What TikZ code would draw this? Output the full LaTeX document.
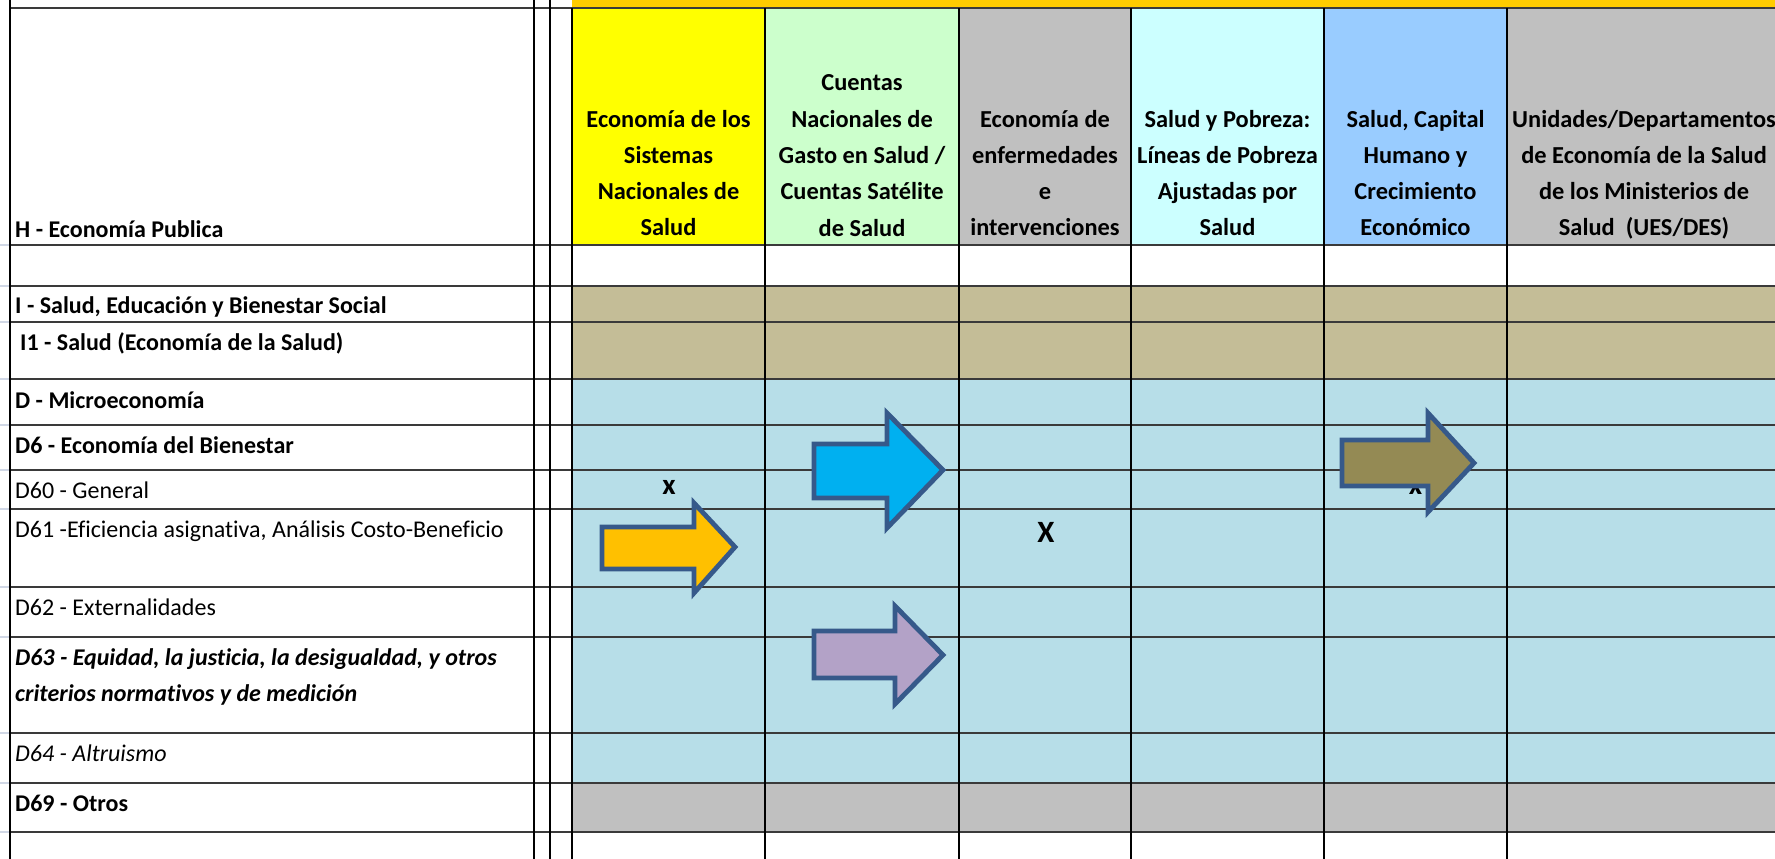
\documentclass[tikz,border=0pt]{standalone}
\usepackage{fontspec}
\setmainfont{Carlito}[Ligatures=NoCommon]
\definecolor{cstrip}{HTML}{FFCC00}
\definecolor{cyel}{HTML}{FFFF00}
\definecolor{cgreen}{HTML}{CCFFCC}
\definecolor{cgray}{HTML}{C0C0C0}
\definecolor{ccyan}{HTML}{CCFFFF}
\definecolor{cblue}{HTML}{99CCFF}
\definecolor{ctan}{HTML}{C4BD97}
\definecolor{caqua}{HTML}{B7DEE8}
\definecolor{cgrid}{HTML}{D0D7E5}
\definecolor{chl}{HTML}{3A3A3A}
\definecolor{aout}{HTML}{36598A}
\definecolor{aorange}{HTML}{FFC000}
\definecolor{acyan}{HTML}{00B0F0}
\definecolor{apurple}{HTML}{B3A2C7}
\definecolor{aolive}{HTML}{948A54}
\newcommand\hcolumn[4]{%
  \foreach \myline [count=\k] in {#4}{%
    \node[hd] (#1\k) at (#2,{#3+(\k-1)*36.25}) {\myline};
  }%
}
\begin{document}
\begin{tikzpicture}[x=1pt,y=-1pt,
  hd/.style={font=\bfseries\fontsize{24.4}{30}\selectfont, anchor=base, inner sep=0pt},
  lb/.style={font=\bfseries\fontsize{24}{30}\selectfont, anchor=base west, inner sep=0pt},
  lr/.style={font=\fontsize{24}{30}\selectfont, anchor=base west, inner sep=0pt},
  lbi/.style={font=\bfseries\itshape\fontsize{24}{30}\selectfont, anchor=base west, inner sep=0pt},
  li/.style={font=\itshape\fontsize{24}{30}\selectfont, anchor=base west, inner sep=0pt},
  mks/.style={font=\bfseries\fontsize{29}{30}\selectfont, anchor=base, inner sep=0pt},
  mkb/.style={font=\bfseries\fontsize{31}{32}\selectfont, anchor=base, inner sep=0pt},
  hline/.style={draw=chl, line width=2pt},
  vline/.style={draw=black, line width=1.4pt},
  grid/.style={draw=cgrid, line width=1.2pt},
  blockarrow/.style={draw=aout, line width=4.8pt, line join=miter}]
\useasboundingbox (0,0) rectangle (1775,859);
\clip (0,0) rectangle (1775,859);
\fill[white] (0,0) rectangle (1775,859);
% top strip
\fill[cstrip] (572,0) rectangle (1775,8);
% header fills
\fill[cyel] (572,8) rectangle (765,245);
\fill[cgreen] (765,8) rectangle (959,245);
\fill[cgray] (959,8) rectangle (1131,245);
\fill[ccyan] (1131,8) rectangle (1324,245);
\fill[cblue] (1324,8) rectangle (1507,245);
\fill[cgray] (1507,8) rectangle (1775,245);
% body fills
\fill[ctan] (572,286) rectangle (1775,379);
\fill[caqua] (572,379) rectangle (1775,783);
\fill[cgray] (572,783) rectangle (1775,832);
% faint sheet gridlines at the left
\foreach \y in {245,286,322,379,425,470,509,587,637,733,783,832}
  \draw[grid] (0,\y) -- (10,\y);
% marks under the arrows
\node[mks] (x1) at (669,494) {x};
\node[mks] (x3) at (1415.5,494) {x};
\node[mkb] (x2) at (1046,542) {X};
% grid lines
\draw[hline] (10,8) -- (1775,8);
\foreach \y in {245,286,322,379,425,470,509,587,637,733,783,832}
  \draw[hline] (10,\y) -- (1775,\y);
\foreach \x in {10,534,550}
  \draw[vline] (\x,0) -- (\x,859);
\foreach \x in {572,765,959,1131,1324,1507}
  \draw[vline] (\x,8) -- (\x,859);
% header texts
\hcolumn{hA}{668.5}{127}{{Economía de los},{Sistemas},{Nacionales de},{Salud}}
\hcolumn{hB}{862}{91}{{Cuentas},{Nacionales de},{Gasto en Salud /},{Cuentas Satélite},{de Salud}}
\hcolumn{hC}{1045}{127}{{Economía de},{enfermedades},{e},{intervenciones}}
\hcolumn{hD}{1227.5}{127}{{Salud y Pobreza:},{Líneas de Pobreza},{Ajustadas por},{Salud}}
\hcolumn{hE}{1415.5}{127}{{Salud, Capital},{Humano y},{Crecimiento},{Económico}}
\hcolumn{hF}{1644}{127}{{Unidades/Departamentos},{de Economía de la Salud},{de los Ministerios de},{Salud\ \ (UES/DES)}}
% row labels
\node[lb] (lH) at (15,237) {H - Economía Publica};
\node[lb] (lI) at (15,313) {I - Salud, Educación y Bienestar Social};
\node[lb] (lI1) at (20,350) {I1 - Salud (Economía de la Salud)};
\node[lb] (lD) at (15,408) {D - Microeconomía};
\node[lb] (lD6) at (15,453) {D6 - Economía del Bienestar};
\node[lr] (lD60) at (15,498) {D60 - General};
\node[lr] (lD61) at (15,537) {D61 -Eficiencia asignativa, Análisis Costo-Beneficio};
\node[lr] (lD62) at (15,615) {D62 - Externalidades};
\node[lbi] (lD63a) at (15,665) {D63 - Equidad, la justicia, la desigualdad, y otros};
\node[lbi] (lD63b) at (15,701) {criterios normativos y de medición};
\node[li] (lD64) at (15,761) {D64 - Altruismo};
\node[lb] (lD69) at (15,811) {D69 - Otros};
% block arrows
\draw[blockarrow, fill=aorange] (602,527) -- (694,527) -- (694,503) -- (735,547) -- (694,593) -- (694,569) -- (602,569) -- cycle;
\draw[blockarrow, fill=acyan] (814,444) -- (887,444) -- (887,413) -- (943,470) -- (887,528) -- (887,498) -- (814,498) -- cycle;
\draw[blockarrow, fill=apurple] (814,631) -- (895,631) -- (895,606) -- (943,655) -- (895,704) -- (895,678) -- (814,678) -- cycle;
\draw[blockarrow, fill=aolive] (1342,440) -- (1428,440) -- (1428,413) -- (1474,463) -- (1428,512) -- (1428,486) -- (1342,486) -- cycle;
\end{tikzpicture}
\end{document}
